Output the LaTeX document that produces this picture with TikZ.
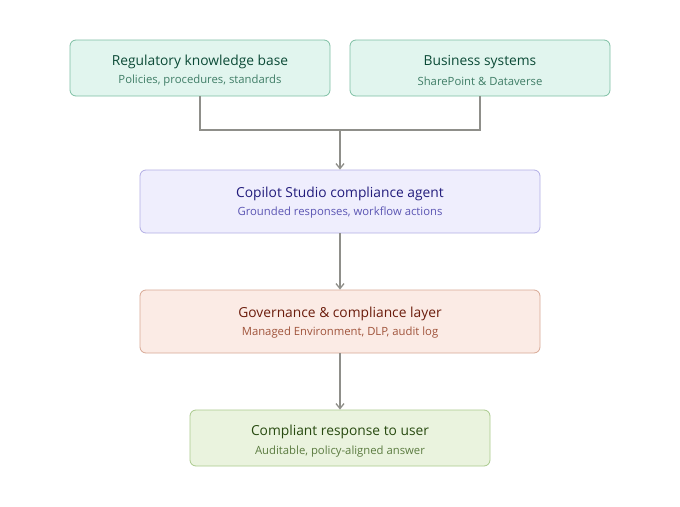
\documentclass[tikz,border=0pt]{standalone}
\usepackage{fontspec}
\setmainfont{Open Sans}
\usetikzlibrary{arrows.meta}
\definecolor{tealfill}{HTML}{E1F5EE}
\definecolor{tealdraw}{HTML}{7DBFA3}
\definecolor{tealtitle}{HTML}{0B4A36}
\definecolor{tealsub}{HTML}{3F7D66}
\definecolor{purfill}{HTML}{EFEEFD}
\definecolor{purdraw}{HTML}{B2AEE4}
\definecolor{purtitle}{HTML}{221C7C}
\definecolor{pursub}{HTML}{5B55B3}
\definecolor{corfill}{HTML}{FBEBE5}
\definecolor{cordraw}{HTML}{D7A894}
\definecolor{cortitle}{HTML}{6B1C0C}
\definecolor{corsub}{HTML}{A0543B}
\definecolor{grnfill}{HTML}{EAF3DE}
\definecolor{grndraw}{HTML}{A9C98C}
\definecolor{grntitle}{HTML}{284A10}
\definecolor{grnsub}{HTML}{5B7B40}
\definecolor{linegray}{HTML}{8F8F8A}
\tikzset{
  box/.style={draw, rounded corners=6pt, line width=0.8pt, inner sep=0pt},
  ttl/.style={font=\fontsize{13.8}{16}\selectfont},
  sub/.style={font=\fontsize{11.3}{13}\selectfont},
  conn/.style={draw=linegray, line width=1.3pt},
  arr/.style={conn, -{Straight Barb[length=5pt,width=8pt]}},
}
\begin{document}
\begin{tikzpicture}[x=1pt,y=-1pt]
\useasboundingbox (0,0) rectangle (680,506);
% boxes
\node[box, fill=tealfill, draw=tealdraw, minimum width=260pt, minimum height=56pt] (kb) at (200,68) {};
\node[ttl, text=tealtitle] at (200,62) {Regulatory knowledge base};
\node[sub, text=tealsub] at (200,81) {Policies, procedures, standards};
\node[box, fill=tealfill, draw=tealdraw, minimum width=260pt, minimum height=56pt] (bs) at (480,68) {};
\node[ttl, text=tealtitle] at (480,62) {Business systems};
\node[sub, text=tealsub] at (480,81) {SharePoint \& Dataverse};
\node[box, fill=purfill, draw=purdraw, minimum width=400pt, minimum height=63pt] (ag) at (340,201.5) {};
\node[ttl, text=purtitle] at (340,194) {Copilot Studio compliance agent};
\node[sub, text=pursub] at (340,213) {Grounded responses, workflow actions};
\node[box, fill=corfill, draw=cordraw, minimum width=400pt, minimum height=63pt] (gv) at (340,321.5) {};
\node[ttl, text=cortitle] at (340,314) {Governance \& compliance layer};
\node[sub, text=corsub] at (340,333) {Managed Environment, DLP, audit log};
\node[box, fill=grnfill, draw=grndraw, minimum width=300pt, minimum height=56pt] (rs) at (340,438) {};
\node[ttl, text=grntitle] at (340,432) {Compliant response to user};
\node[sub, text=grnsub] at (340,452) {Auditable, policy-aligned answer};
% connectors
\coordinate (j) at (340,130);
\draw[conn] (kb.south) |- (j) -| (bs.south);
\draw[arr] (j) -- (ag.north);
\draw[arr] (ag.south) -- (gv.north);
\draw[arr] (gv.south) -- (rs.north);
\end{tikzpicture}
\end{document}
